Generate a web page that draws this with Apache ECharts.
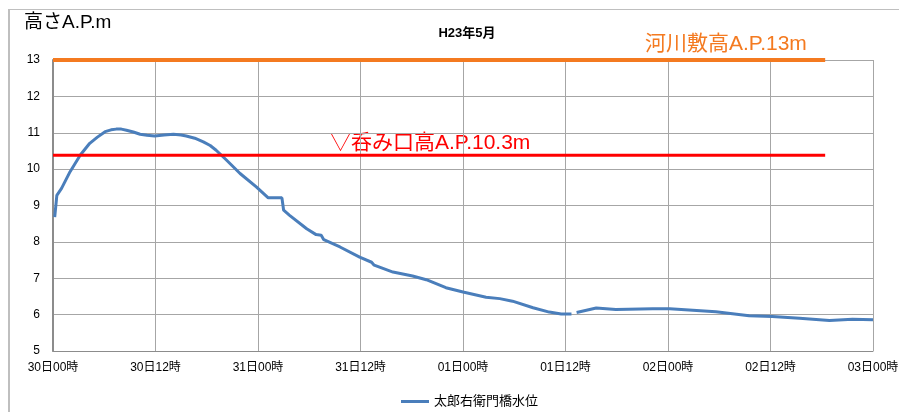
<!DOCTYPE html>
<html>
<head>
<meta charset="utf-8">
<script src="https://cdn.jsdelivr.net/npm/echarts@6/dist/echarts.min.js"></script>
<style>
html,body{margin:0;padding:0;background:#fff;}
#main{width:899px;height:412px;}
</style>
</head>
<body>
<div id="main"></div>
<script>
// ---- data ----
var tickLabels = ['30日00時','30日12時','31日00時','31日12時','01日00時','01日12時','02日00時','02日12時','03日00時'];
var seriesName = '太郎右衛門橋水位';
// hours since 30日00時
var hours = [0.2, 0.45, 1.0, 2.0, 3.2, 4.3, 5.2, 6.1, 6.8, 7.4, 8.0, 8.6, 9.4, 10.2, 11.0, 11.9, 13.0, 14.1, 15.0, 15.6, 16.6, 17.6, 18.4, 19.1, 20.3, 21.9, 23.8, 25.2, 26.8, 27.0, 27.7, 29.7, 30.8, 31.4, 31.7, 33.6, 35.9, 37.3, 37.6, 39.8, 42.1, 43.7, 46.0, 48.0, 50.7, 52.3, 53.8, 56.2, 58.1, 59.5, 60.7, 61.0, 61.3, 63.6, 65.9, 70.2, 72.2, 77.6, 81.5, 84.2, 87.4, 90.9, 93.6, 96.0];
var levels = [8.68, 9.28, 9.47, 9.93, 10.39, 10.71, 10.88, 11.03, 11.08, 11.10, 11.10, 11.07, 11.02, 10.96, 10.93, 10.91, 10.94, 10.96, 10.94, 10.91, 10.85, 10.75, 10.65, 10.52, 10.25, 9.88, 9.51, 9.21, 9.21, 8.87, 8.73, 8.36, 8.20, 8.18, 8.06, 7.86, 7.58, 7.44, 7.36, 7.17, 7.06, 6.96, 6.74, 6.62, 6.48, 6.44, 6.37, 6.19, 6.07, 6.02, 6.02, null, 6.06, 6.18, 6.14, 6.16, 6.16, 6.08, 5.97, 5.95, 5.90, 5.84, 5.87, 5.86];
var riverbedLevel = 13;      // 河川敷高
var intakeLevel = 10.38;     // 呑み口高 (as drawn)
var refLineStart = 0;
var refLineEnd = 90.4;
var riverbedText = '河川敷高A.P.13m';
var intakeText = '▽呑み口高A.P.10.3m';
var titleText = 'H23年5月';
var yAxisTitle = '高さA.P.m';

var FONT = "'Liberation Sans','Noto Sans CJK JP',sans-serif";

var chart = echarts.init(document.getElementById('main'));
var lineData = hours.map(function(h, i){ return [h, levels[i] === null ? '-' : levels[i]]; });

chart.setOption({
  animation: false,
  backgroundColor: '#fff',
  textStyle: { fontFamily: FONT },
  title: {
    text: titleText, left: 462, top: 22, textAlign: 'center',
    textStyle: { fontSize: 13, fontWeight: 'bold', color: '#000', fontFamily: FONT }
  },
  grid: { left: 53, right: 26, top: 60, bottom: 61, containLabel: false, outerBoundsMode: 'none' },
  legend: {
    data: [seriesName], left: 396, top: 390, icon: 'rect', itemWidth: 28, itemHeight: 3, itemGap: 5,
    textStyle: { fontSize: 13, color: '#000', fontFamily: FONT }
  },
  xAxis: {
    type: 'value', min: 0, max: 96, interval: 12,
    axisLine: { show: true, lineStyle: { color: '#8C8C8C', width: 1 } },
    axisTick: { show: false },
    splitLine: { show: true, lineStyle: { color: '#A6A6A6', width: 1 } },
    axisLabel: { margin: 11, fontSize: 12, color: '#000', fontFamily: FONT,
      formatter: function(v){ return tickLabels[Math.round(v/12)]; } }
  },
  yAxis: {
    type: 'value', min: 5, max: 13, interval: 1,
    axisLine: { show: true, lineStyle: { color: '#8C8C8C', width: 2 } },
    axisTick: { show: false },
    splitLine: { show: true, lineStyle: { color: '#A6A6A6', width: 1 } },
    axisLabel: { margin: 13, fontSize: 12, color: '#000', fontFamily: FONT }
  },
  series: [
    {
      name: seriesName, type: 'line', data: lineData, symbol: 'none', connectNulls: false,
      lineStyle: { color: '#4A7EBB', width: 3 }, itemStyle: { color: '#4A7EBB' }, z: 3
    },
    {
      name: 'riverbed', type: 'line', symbol: 'none', silent: true,
      data: [[refLineStart, riverbedLevel], [refLineEnd, riverbedLevel]],
      lineStyle: { color: '#F47A20', width: 4 }, z: 4
    },
    {
      name: 'intake', type: 'line', symbol: 'none', silent: true,
      data: [[refLineStart, intakeLevel], [refLineEnd, intakeLevel]],
      lineStyle: { color: '#FF0000', width: 3 }, z: 4
    }
  ],
  graphic: [
    { type: 'line', shape: { x1: 9, y1: 9.5, x2: 899, y2: 9.5 }, style: { stroke: '#BFBFBF', lineWidth: 1 } },
    { type: 'line', shape: { x1: 9, y1: 9, x2: 9, y2: 412 }, style: { stroke: '#BFBFBF', lineWidth: 2 } },
    { type: 'text', left: 24, top: 13, style: { text: yAxisTitle, font: '19px ' + FONT, fill: '#000' } },
    { type: 'text', left: 645, top: 34, style: { text: riverbedText, font: '21px ' + FONT, fill: '#F47A20' } },
    { type: 'text', left: 330, top: 133, style: { text: intakeText, font: '21px ' + FONT, fill: '#FF0000' } }
  ]
});
</script>
</body>
</html>
